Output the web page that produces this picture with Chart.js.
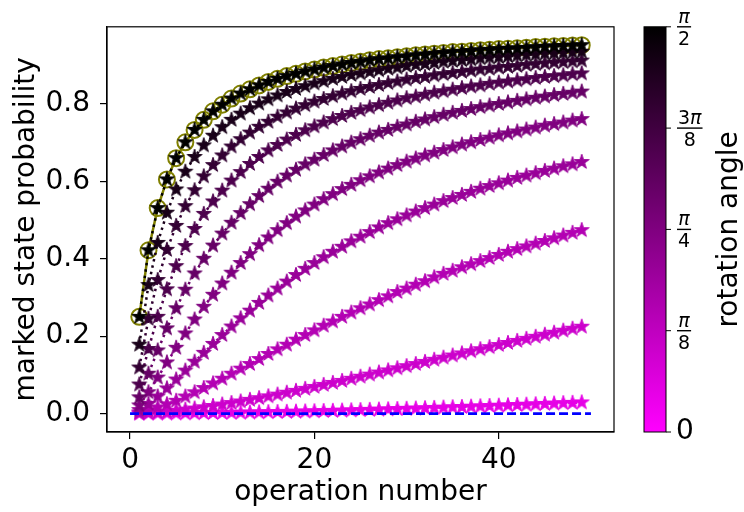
<!DOCTYPE html>
<html>
<head>
<meta charset="utf-8">
<script src="https://cdn.jsdelivr.net/npm/chart.js@4.4.1/dist/chart.umd.min.js"></script>
<style>
  html, body { margin: 0; padding: 0; background: #fff; }
</style>
</head>
<body>
<canvas id="chart" width="744" height="512"></canvas>
<script>
/* operation number (x) */
const ops = [1,2,3,4,5,6,7,8,9,10,11,12,13,14,15,16,17,18,19,20,21,22,23,24,25,
             26,27,28,29,30,31,32,33,34,35,36,37,38,39,40,41,42,43,44,45,46,47,48,49];

/* rotation angle of each star series, as fraction of pi/2 */
const angleFrac = [0.1, 0.2, 0.3, 0.4, 0.5, 0.6, 0.7, 0.8, 0.9, 1.0];

/* marked state probability, one array per angle */
const prob1 = [0.0000,0.0001,0.0002,0.0003,0.0005,0.0007,0.0009,0.0012,0.0014,0.0017,
               0.0020,0.0024,0.0028,0.0032,0.0036,0.0040,0.0045,0.0050,0.0055,0.0060,
               0.0066,0.0071,0.0077,0.0083,0.0090,0.0096,0.0103,0.0110,0.0117,0.0124,
               0.0131,0.0139,0.0147,0.0154,0.0162,0.0171,0.0179,0.0187,0.0196,0.0205,
               0.0213,0.0222,0.0231,0.0241,0.0250,0.0259,0.0269,0.0278,0.0288];
const prob2 = [0.0006,0.0017,0.0033,0.0053,0.0076,0.0103,0.0131,0.0163,0.0197,0.0234,
               0.0273,0.0313,0.0355,0.0399,0.0445,0.0491,0.0539,0.0588,0.0639,0.0689,
               0.0741,0.0793,0.0845,0.0899,0.0953,0.1007,0.1061,0.1115,0.1170,0.1225,
               0.1280,0.1335,0.1390,0.1445,0.1500,0.1555,0.1609,0.1663,0.1717,0.1771,
               0.1825,0.1878,0.1931,0.1985,0.2038,0.2090,0.2142,0.2193,0.2244];
const prob3 = [0.003,0.008,0.016,0.024,0.033,0.044,0.055,0.066,0.078,0.090,
               0.103,0.116,0.128,0.141,0.154,0.166,0.178,0.191,0.203,0.215,
               0.227,0.238,0.250,0.261,0.272,0.282,0.293,0.303,0.314,0.323,
               0.333,0.342,0.352,0.361,0.369,0.378,0.386,0.394,0.402,0.410,
               0.418,0.425,0.432,0.439,0.446,0.453,0.460,0.467,0.474];
const prob4 = [0.009,0.025,0.044,0.065,0.088,0.111,0.134,0.157,0.180,0.203,
               0.225,0.246,0.266,0.286,0.305,0.323,0.341,0.358,0.374,0.389,
               0.404,0.418,0.431,0.445,0.457,0.469,0.481,0.492,0.502,0.512,
               0.522,0.531,0.540,0.549,0.557,0.565,0.573,0.581,0.588,0.595,
               0.602,0.609,0.615,0.621,0.627,0.633,0.639,0.644,0.650];
const prob5 = [0.021,0.055,0.093,0.132,0.170,0.207,0.243,0.276,0.307,0.336,
               0.364,0.389,0.412,0.435,0.455,0.474,0.492,0.509,0.525,0.540,
               0.554,0.567,0.580,0.591,0.603,0.613,0.623,0.633,0.642,0.651,
               0.659,0.667,0.674,0.681,0.688,0.695,0.701,0.707,0.713,0.719,
               0.724,0.729,0.734,0.739,0.744,0.748,0.752,0.757,0.761];
const prob6 = [0.042,0.103,0.163,0.220,0.272,0.320,0.362,0.400,0.434,0.465,
               0.493,0.518,0.541,0.562,0.581,0.599,0.615,0.630,0.644,0.656,
               0.668,0.680,0.690,0.700,0.709,0.718,0.726,0.733,0.741,0.747,
               0.754,0.760,0.766,0.772,0.777,0.782,0.787,0.792,0.796,0.800,
               0.804,0.808,0.812,0.816,0.819,0.823,0.826,0.829,0.832];
const prob7 = [0.075,0.167,0.250,0.321,0.381,0.433,0.477,0.516,0.548,0.576,
               0.602,0.624,0.645,0.663,0.680,0.694,0.708,0.720,0.732,0.742,
               0.752,0.761,0.769,0.777,0.784,0.791,0.797,0.803,0.809,0.815,
               0.819,0.824,0.829,0.833,0.837,0.841,0.845,0.848,0.852,0.855,
               0.858,0.861,0.864,0.867,0.870,0.872,0.874,0.877,0.879];
const prob8 = [0.119,0.245,0.345,0.423,0.485,0.536,0.577,0.613,0.642,0.667,
               0.690,0.709,0.726,0.741,0.754,0.767,0.778,0.788,0.797,0.806,
               0.813,0.820,0.827,0.833,0.839,0.844,0.849,0.854,0.858,0.863,
               0.867,0.870,0.874,0.877,0.880,0.883,0.886,0.889,0.891,0.894,
               0.896,0.898,0.901,0.903,0.905,0.907,0.908,0.910,0.912];
const prob9 = [0.178,0.332,0.441,0.519,0.579,0.625,0.663,0.693,0.718,0.740,
               0.759,0.775,0.789,0.801,0.812,0.822,0.831,0.839,0.846,0.853,
               0.859,0.865,0.870,0.875,0.879,0.883,0.887,0.891,0.894,0.898,
               0.901,0.903,0.906,0.909,0.911,0.913,0.915,0.918,0.920,0.921,
               0.923,0.925,0.927,0.928,0.930,0.931,0.932,0.934,0.935];
const prob10 = [0.250,0.422,0.531,0.605,0.660,0.701,0.733,0.759,0.781,0.798,
                0.814,0.827,0.838,0.848,0.857,0.865,0.872,0.878,0.884,0.889,
                0.894,0.898,0.902,0.906,0.909,0.913,0.916,0.918,0.921,0.923,
                0.926,0.928,0.930,0.932,0.934,0.935,0.937,0.939,0.940,0.942,
                0.943,0.944,0.945,0.947,0.948,0.949,0.950,0.951,0.952];
const starSeries = [prob1, prob2, prob3, prob4, prob5, prob6, prob7, prob8, prob9, prob10];

/* reference curve drawn with open circles */
const reference = [0.250,0.422,0.531,0.605,0.660,0.701,0.733,0.759,0.781,0.798,
                   0.814,0.827,0.838,0.848,0.857,0.865,0.872,0.878,0.884,0.889,
                   0.894,0.898,0.902,0.906,0.909,0.913,0.916,0.918,0.921,0.923,
                   0.926,0.928,0.930,0.932,0.934,0.935,0.937,0.939,0.940,0.942,
                   0.943,0.944,0.945,0.947,0.948,0.949,0.950,0.951,0.952];

/* dashed zero line */
const baseX = [0, 50];
const baseY = [0, 0];

/* tick labels */
const xTicks = [0, 20, 40];
const yTicks = [0, 0.2, 0.4, 0.6, 0.8];
const cbTicks = [0, Math.PI / 8, Math.PI / 4, 3 * Math.PI / 8, Math.PI / 2];
const cbLabels = [null, ['\u03c0', '8'], ['\u03c0', '4'], ['3\u03c0', '8'], ['\u03c0', '2']];

Chart.defaults.font.family = "'DejaVu Sans', sans-serif";
Chart.defaults.color = '#000';

function shade(f) { // magenta at 0 -> black at 1
  const v = Math.round(255 * (1 - f));
  return 'rgb(' + v + ',0,' + v + ')';
}

function starImage(color) {
  const size = 18;
  const c = document.createElement('canvas');
  c.width = size; c.height = size;
  const g = c.getContext('2d');
  const R = 7.8, r = R * 0.382;
  g.beginPath();
  for (let i = 0; i < 10; i++) {
    const a = -Math.PI / 2 + i * Math.PI / 5;
    const rad = i % 2 ? r : R;
    g.lineTo(size / 2 + rad * Math.cos(a), size / 2 + rad * Math.sin(a));
  }
  g.closePath();
  g.fillStyle = color;
  g.fill();
  g.lineWidth = 1;
  g.strokeStyle = color;
  g.stroke();
  return c;
}

function pts(xs, ys) {
  return ys.map((y, i) => ({ x: xs[i], y: y }));
}

const datasets = [];
datasets.push({
  data: pts(baseX, baseY),
  borderColor: '#0000ff', borderWidth: 2.6, borderDash: [9, 4],
  pointRadius: 0
});
for (let k = starSeries.length - 1; k >= 0; k--) {
  const col = shade(angleFrac[k]);
  datasets.push({
    data: pts(ops, starSeries[k]),
    borderColor: col, borderWidth: 2.5, borderDash: [2.5, 4],
    pointStyle: starImage(col), pointRadius: 7
  });
}
datasets.push({
  data: pts(ops, reference),
  borderColor: '#808000', borderWidth: 2.5,
  pointStyle: 'circle', pointRadius: 8,
  pointBorderColor: '#808000', pointBorderWidth: 2,
  pointBackgroundColor: 'rgba(0,0,0,0)'
});

// box around the plot like matplotlib spines
const frame = {
  id: 'frame',
  afterDraw(chart) {
    const { ctx, chartArea: a } = chart;
    ctx.save();
    ctx.strokeStyle = '#000';
    ctx.lineWidth = 1.2;
    ctx.strokeRect(a.left, a.top, a.right - a.left, a.bottom - a.top);
    ctx.restore();
  }
};

function drawFrac(ctx, x, y, num, den) {
  const fs = 19;
  ctx.font = fs + "px 'DejaVu Sans'";
  const wDen = ctx.measureText(den).width;
  // numerator: digits upright, pi italic
  const parts = num.length > 1 ? [num.slice(0, -1), num.slice(-1)] : [num];
  let wNum = 0;
  const widths = parts.map((p, i) => {
    ctx.font = (i === parts.length - 1 ? 'italic ' : '') + fs + "px 'DejaVu Sans'";
    const w = ctx.measureText(p).width;
    wNum += w;
    return w;
  });
  const w = Math.max(wNum, wDen) + 2;
  ctx.fillRect(x, y - 0.7, w, 1.4);
  ctx.textBaseline = 'alphabetic';
  ctx.textAlign = 'left';
  let nx = x + (w - wNum) / 2;
  parts.forEach((p, i) => {
    ctx.font = (i === parts.length - 1 ? 'italic ' : '') + fs + "px 'DejaVu Sans'";
    ctx.fillText(p, nx, y - 4);
    nx += widths[i];
  });
  ctx.font = fs + "px 'DejaVu Sans'";
  ctx.fillText(den, x + (w - wDen) / 2, y + 4 + fs * 0.73);
}

const colorbar = {
  id: 'colorbar',
  afterDraw(chart) {
    const ctx = chart.ctx;
    const cb = chart.scales.cb;
    const x0 = chart.chartArea.right + 30, w = 22;
    const top = cb.getPixelForValue(Math.PI / 2), bot = cb.getPixelForValue(0);
    ctx.save();
    const grad = ctx.createLinearGradient(0, bot, 0, top);
    grad.addColorStop(0, shade(0));
    grad.addColorStop(1, shade(1));
    ctx.fillStyle = grad;
    ctx.fillRect(x0, top, w, bot - top);
    ctx.strokeStyle = '#000';
    ctx.lineWidth = 1;
    ctx.strokeRect(x0, top, w, bot - top);
    ctx.fillStyle = '#000';
    cbTicks.forEach((v, i) => {
      const y = cb.getPixelForValue(v);
      ctx.beginPath();
      ctx.moveTo(x0 + w, y);
      ctx.lineTo(x0 + w + 5, y);
      ctx.stroke();
      if (cbLabels[i] === null) {
        ctx.font = "28px 'DejaVu Sans'";
        ctx.textAlign = 'left';
        ctx.textBaseline = 'middle';
        ctx.fillText('0', x0 + w + 10, y);
      } else {
        drawFrac(ctx, x0 + w + 11, y, cbLabels[i][0], cbLabels[i][1]);
      }
    });
    ctx.translate(730, (top + bot) / 2);
    ctx.rotate(-Math.PI / 2);
    ctx.font = "28px 'DejaVu Sans'";
    ctx.textAlign = 'center';
    ctx.textBaseline = 'middle';
    ctx.fillText('rotation angle', 0, 0);
    ctx.restore();
  }
};

new Chart(document.getElementById('chart'), {
  type: 'line',
  data: { datasets: datasets },
  options: {
    responsive: false,
    animation: false,
    events: [],
    layout: { padding: { left: 0, top: 21, right: 130, bottom: 0 } },
    elements: { line: { tension: 0, fill: false } },
    plugins: { legend: { display: false }, tooltip: { enabled: false } },
    scales: {
      x: {
        type: 'linear', min: -2.5, max: 52.5,
        afterBuildTicks: s => { s.ticks = xTicks.map(v => ({ value: v })); },
        afterFit: s => { s.height = 80; },
        grid: { display: true, drawOnChartArea: false, drawTicks: true, tickLength: 7, color: '#000', lineWidth: 1.2 },
        border: { display: true, color: '#000', width: 1.2 },
        ticks: { font: { size: 28 }, padding: 5, maxRotation: 0, autoSkip: false, callback: v => String(v) },
        title: { display: true, text: 'operation number', font: { size: 28 }, padding: { top: 0, bottom: 2 } }
      },
      y: {
        type: 'linear', min: -0.0476, max: 0.9994,
        afterBuildTicks: s => { s.ticks = yTicks.map(v => ({ value: v })); },
        afterFit: s => { s.width = 107; },
        grid: { display: true, drawOnChartArea: false, drawTicks: true, tickLength: 7, color: '#000', lineWidth: 1.2 },
        border: { display: true, color: '#000', width: 1.2 },
        ticks: { font: { size: 28 }, padding: 10, autoSkip: false, callback: v => v.toFixed(1) },
        title: { display: true, text: 'marked state probability', font: { size: 28 }, padding: { top: 10, bottom: 0 } }
      },
      cb: { type: 'linear', position: 'right', display: false, min: 0, max: Math.PI / 2 }
    }
  },
  plugins: [frame, colorbar]
});
</script>
</body>
</html>
